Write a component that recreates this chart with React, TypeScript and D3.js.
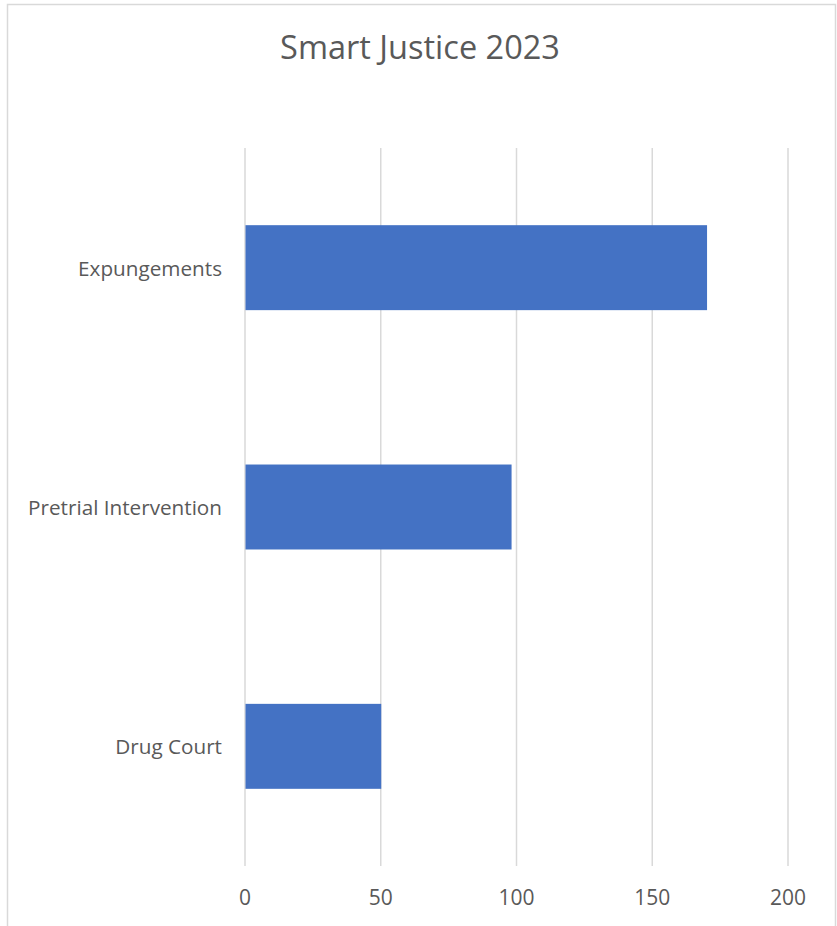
import * as d3 from 'd3'

const categories = ['Expungements', 'Pretrial Intervention', 'Drug Court']
const values = [170, 98, 50]
const tickValues = [0, 50, 100, 150, 200]
const title = 'Smart Justice 2023'

const W = 837
const H = 926
const FONT = '"Open Sans", "Noto Sans", sans-serif'
const TEXT_COLOR = '#595959'

export default function App() {
  const x = d3.scaleLinear().domain([0, 200]).range([245, 788])
  const y = d3.scaleBand<string>()
    .domain(categories)
    .range([148, 866])
    .paddingInner(0.645)
    .paddingOuter(0.3225)

  return (
    <svg
      width={W}
      height={H}
      style={{ position: 'absolute', left: 0, top: 0, background: '#fff' }}
    >
      {/* descender of the page text above the chart */}
      <text x={56} y={-5} fontFamily="'Liberation Serif', serif" fontSize={24} fill="#000">g</text>

      {/* chart frame */}
      <rect x={7.5} y={4.5} width={828} height={H + 10} fill="#fff" stroke="#d9d9d9" strokeWidth={1.5} />

      <text
        x={420}
        y={59}
        textAnchor="middle"
        fontFamily={FONT}
        fontSize={32.5}
        fill={TEXT_COLOR}
      >
        {title}
      </text>

      {/* vertical gridlines */}
      {tickValues.map(t => (
        <line
          key={t}
          x1={x(t)}
          x2={x(t)}
          y1={148}
          y2={866}
          stroke="#d9d9d9"
          strokeWidth={1.5}
        />
      ))}

      {/* bars */}
      {categories.map((c, i) => (
        <rect
          key={c}
          x={x(0) + 0.5}
          y={y(c)}
          width={x(values[i]) - x(0)}
          height={y.bandwidth()}
          fill="#4472c4"
        />
      ))}

      {/* category labels */}
      {categories.map(c => (
        <text
          key={c}
          x={222}
          y={(y(c) ?? 0) + y.bandwidth() / 2 + 8}
          textAnchor="end"
          fontFamily={FONT}
          fontSize={20.7}
          fill={TEXT_COLOR}
        >
          {c}
        </text>
      ))}

      {/* value tick labels */}
      {tickValues.map(t => (
        <text
          key={t}
          x={x(t)}
          y={905}
          textAnchor="middle"
          fontFamily={FONT}
          fontSize={21}
          fill={TEXT_COLOR}
        >
          {t}
        </text>
      ))}
    </svg>
  )
}
